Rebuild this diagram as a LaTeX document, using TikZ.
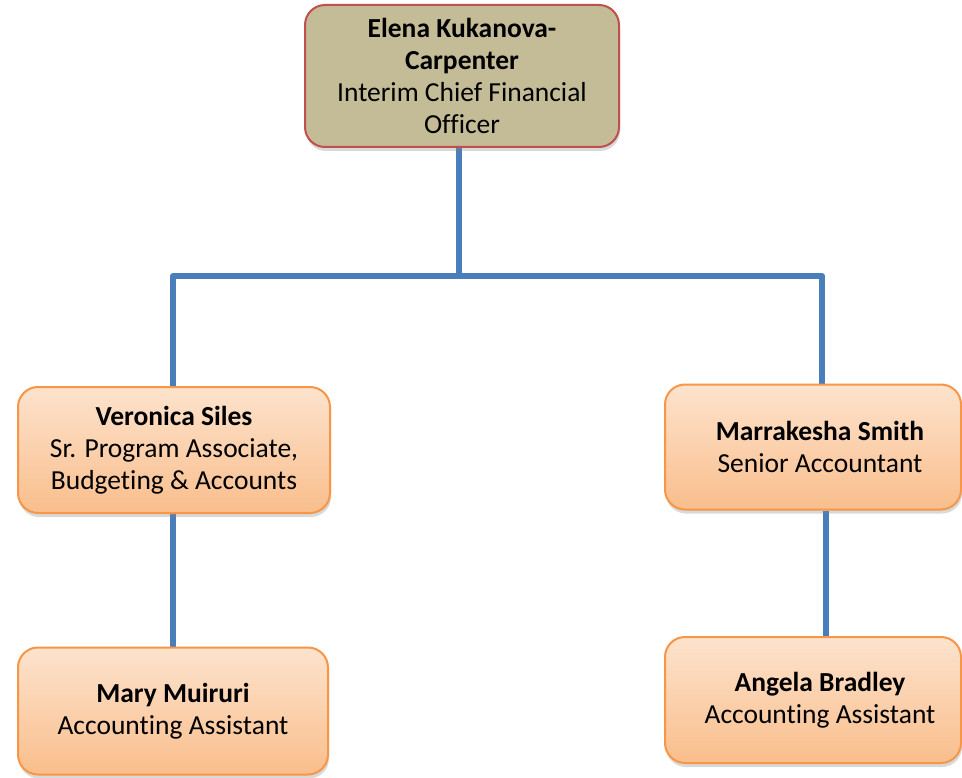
\documentclass[tikz,border=0pt]{standalone}
\usepackage{fontspec}
\setmainfont[Ligatures=NoCommon]{Carlito}
\usetikzlibrary{shadows,backgrounds}
\definecolor{conncol}{HTML}{4A7EBB}
\definecolor{topfill}{HTML}{C4BC96}
\definecolor{topdraw}{HTML}{C0504D}
\definecolor{orgtop}{HTML}{FDE3CD}
\definecolor{orgbot}{HTML}{F9BE8C}
\definecolor{orgdraw}{HTML}{F79646}
\tikzset{
  boxbase/.style={rounded corners=20pt, align=center, line width=2pt, inner sep=4pt,
    font=\fontsize{27.5}{32}\selectfont,
    drop shadow={opacity=0.3, shadow xshift=1pt, shadow yshift=-4pt}},
  topbox/.style={boxbase, fill=topfill, draw=topdraw},
  orgbox/.style={boxbase, draw=orgdraw, top color=orgtop, bottom color=orgbot},
  conn/.style={draw=conncol, line width=6pt, line join=round}
}
\begin{document}
\begin{tikzpicture}[x=1pt,y=-1pt]
\useasboundingbox (0,0) rectangle (962,778);
\node[topbox, minimum width=314pt, minimum height=142pt] (top) at (462,76)
  {\textbf{Elena Kukanova-}\\\textbf{Carpenter}\\Interim Chief Financial\\Officer};
\node[orgbox, minimum width=312pt, minimum height=126pt] (vero) at (174,450)
  {\textbf{Veronica Siles}\\Sr. Program Associate,\\Budgeting \& Accounts};
\node[orgbox, minimum width=296pt, minimum height=125pt] (marr) at (813,447)
  {\hspace*{14pt}\textbf{Marrakesha Smith}\\\hspace*{14pt}Senior Accountant};
\node[orgbox, minimum width=310pt, minimum height=127pt] (mary) at (173,711)
  {\textbf{Mary Muiruri}\\Accounting Assistant};
\node[orgbox, minimum width=296pt, minimum height=126pt] (ange) at (813,700)
  {\hspace*{14pt}\textbf{Angela Bradley}\\\hspace*{14pt}Accounting Assistant};
\coordinate (jT) at (459,276);
\coordinate (jL) at (173,276);
\coordinate (jR) at (822,276);
\coordinate (rL) at (826,520);
\begin{pgfonlayer}{background}
\draw[conn] (jT |- top.south) -- (jT);
\draw[conn] (jL |- vero.north) -- (jL) -- (jR) -- (jR |- marr.north);
\draw[conn] (jL |- vero.south) -- (jL |- mary.north);
\draw[conn] (rL |- marr.south) -- (rL |- ange.north);
\end{pgfonlayer}
\end{tikzpicture}
\end{document}
